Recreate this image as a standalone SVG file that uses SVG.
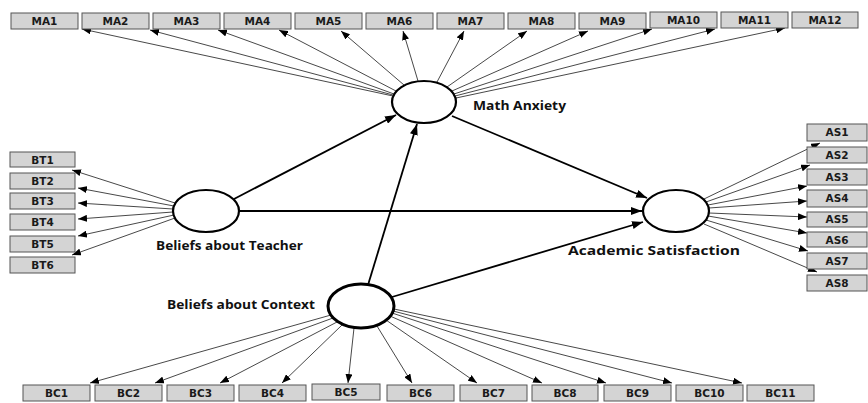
<svg xmlns="http://www.w3.org/2000/svg" width="868" height="403" viewBox="0 0 868 403">
<style>
.box{fill:#d4d4d4;stroke:#555;stroke-width:1}
.bt{font-family:"DejaVu Sans","Open Sans",sans-serif;font-weight:bold;font-size:10.5px;fill:#1a1a1a;text-anchor:middle}
.lbl{font-family:"Open Sans","DejaVu Sans",sans-serif;font-weight:bold;font-size:13px;fill:#111}
.lv{fill:#fff;stroke:#000;stroke-width:2.2}
.thin{stroke:#333;stroke-width:0.9;fill:none;marker-end:url(#ah)}
.thick{stroke:#000;stroke-width:1.8;fill:none;marker-end:url(#ahb)}
</style>
<defs>
<marker id="ah" markerUnits="userSpaceOnUse" markerWidth="9" markerHeight="7" refX="9" refY="3.5" orient="auto">
<path d="M0,0 L9,3.5 L0,7 z" fill="#000"/>
</marker>
<marker id="ahb" markerUnits="userSpaceOnUse" markerWidth="11" markerHeight="8" refX="11" refY="4" orient="auto">
<path d="M0,0 L11,4 L0,8 z" fill="#000"/>
</marker>
</defs>
<g id="connectors">
<line class="thin" x1="393" y1="96" x2="82" y2="29"/>
<line class="thin" x1="393" y1="95" x2="150" y2="30"/>
<line class="thin" x1="394" y1="94" x2="218" y2="30"/>
<line class="thin" x1="396" y1="91" x2="279" y2="30"/>
<line class="thin" x1="404" y1="85" x2="341" y2="31"/>
<line class="thin" x1="418" y1="81" x2="403" y2="31"/>
<line class="thin" x1="437" y1="82" x2="464" y2="31"/>
<line class="thin" x1="447" y1="87" x2="527" y2="31"/>
<line class="thin" x1="452" y1="91" x2="588" y2="31"/>
<line class="thin" x1="454" y1="94" x2="652" y2="29"/>
<line class="thin" x1="455" y1="96" x2="715" y2="29"/>
<line class="thin" x1="456" y1="98" x2="785" y2="28"/>
<line class="thin" x1="175" y1="203" x2="72" y2="170"/>
<line class="thin" x1="174" y1="206" x2="78" y2="188"/>
<line class="thin" x1="173" y1="209" x2="78" y2="203"/>
<line class="thin" x1="173" y1="212" x2="78" y2="219"/>
<line class="thin" x1="174" y1="215" x2="78" y2="236"/>
<line class="thin" x1="175" y1="218" x2="72" y2="255"/>
<line class="thin" x1="704" y1="199" x2="820" y2="143"/>
<line class="thin" x1="706" y1="202" x2="810" y2="165"/>
<line class="thin" x1="708" y1="205" x2="807" y2="186"/>
<line class="thin" x1="709" y1="208" x2="807" y2="201"/>
<line class="thin" x1="709" y1="213" x2="807" y2="217"/>
<line class="thin" x1="708" y1="216" x2="807" y2="233"/>
<line class="thin" x1="706" y1="220" x2="808" y2="251"/>
<line class="thin" x1="704" y1="224" x2="817" y2="272"/>
<line class="thin" x1="331" y1="315" x2="90" y2="383"/>
<line class="thin" x1="333" y1="318" x2="155" y2="383"/>
<line class="thin" x1="337" y1="322" x2="220" y2="383"/>
<line class="thin" x1="342" y1="325" x2="282" y2="383"/>
<line class="thin" x1="354" y1="328" x2="348" y2="383"/>
<line class="thin" x1="377" y1="326" x2="412" y2="383"/>
<line class="thin" x1="386" y1="320" x2="477" y2="383"/>
<line class="thin" x1="390" y1="316" x2="542" y2="383"/>
<line class="thin" x1="392" y1="313" x2="606" y2="383"/>
<line class="thin" x1="393" y1="311" x2="672" y2="383"/>
<line class="thin" x1="394" y1="309" x2="742" y2="383"/>
<line class="thick" x1="234" y1="199" x2="396" y2="115"/>
<line class="thick" x1="368" y1="285" x2="417" y2="124"/>
<line class="thick" x1="452" y1="116" x2="647" y2="198"/>
<line class="thick" x1="239" y1="211" x2="642" y2="211"/>
<line class="thick" x1="392" y1="297" x2="643" y2="222"/>
</g>
<g id="MathAnxiety"><ellipse class="lv" cx="424" cy="102" rx="32" ry="21"/><text class="lbl" x="473" y="110" textLength="93" lengthAdjust="spacingAndGlyphs">Math Anxiety</text></g>
<g id="BeliefsTeacher"><ellipse class="lv" cx="206" cy="211" rx="33" ry="21"/><text class="lbl" x="156" y="250" textLength="147" lengthAdjust="spacingAndGlyphs">Beliefs about Teacher</text></g>
<g id="AcademicSatisfaction"><ellipse class="lv" cx="676" cy="211" rx="33" ry="21"/><text class="lbl" x="568" y="255" textLength="172" lengthAdjust="spacingAndGlyphs">Academic Satisfaction</text></g>
<g id="BeliefsContext"><ellipse class="lv" cx="361" cy="306" rx="33" ry="22" style="stroke-width:3"/><text class="lbl" x="167" y="309" textLength="148" lengthAdjust="spacingAndGlyphs">Beliefs about Context</text></g>
<g id="MA1"><rect class="box" x="11" y="13" width="67" height="16"/><text class="bt" x="44.5" y="25">MA1</text></g>
<g id="MA2"><rect class="box" x="82" y="13" width="67" height="16"/><text class="bt" x="115.5" y="25">MA2</text></g>
<g id="MA3"><rect class="box" x="153" y="13" width="67" height="16"/><text class="bt" x="186.5" y="25">MA3</text></g>
<g id="MA4"><rect class="box" x="224" y="13" width="67" height="16"/><text class="bt" x="257.5" y="25">MA4</text></g>
<g id="MA5"><rect class="box" x="295" y="13" width="67" height="16"/><text class="bt" x="328.5" y="25">MA5</text></g>
<g id="MA6"><rect class="box" x="366" y="13" width="67" height="16"/><text class="bt" x="399.5" y="25">MA6</text></g>
<g id="MA7"><rect class="box" x="437" y="13" width="67" height="16"/><text class="bt" x="470.5" y="25">MA7</text></g>
<g id="MA8"><rect class="box" x="508" y="13" width="67" height="16"/><text class="bt" x="541.5" y="25">MA8</text></g>
<g id="MA9"><rect class="box" x="579" y="13" width="67" height="16"/><text class="bt" x="612.5" y="25">MA9</text></g>
<g id="MA10"><rect class="box" x="650" y="12" width="67" height="16"/><text class="bt" x="683.5" y="24">MA10</text></g>
<g id="MA11"><rect class="box" x="721" y="12" width="67" height="16"/><text class="bt" x="754.5" y="24">MA11</text></g>
<g id="MA12"><rect class="box" x="792" y="12" width="66" height="16"/><text class="bt" x="825" y="24">MA12</text></g>
<g id="BT1"><rect class="box" x="10" y="152" width="65" height="15"/><text class="bt" x="42.5" y="164">BT1</text></g>
<g id="BT2"><rect class="box" x="10" y="173" width="65" height="16"/><text class="bt" x="42.5" y="185">BT2</text></g>
<g id="BT3"><rect class="box" x="10" y="193" width="65" height="16"/><text class="bt" x="42.5" y="205">BT3</text></g>
<g id="BT4"><rect class="box" x="10" y="214" width="65" height="16"/><text class="bt" x="42.5" y="226">BT4</text></g>
<g id="BT5"><rect class="box" x="10" y="236" width="65" height="16"/><text class="bt" x="42.5" y="248">BT5</text></g>
<g id="BT6"><rect class="box" x="10" y="257" width="65" height="16"/><text class="bt" x="42.5" y="269">BT6</text></g>
<g id="AS1"><rect class="box" x="807" y="124" width="60" height="17"/><text class="bt" x="837" y="136">AS1</text></g>
<g id="AS2"><rect class="box" x="807" y="147" width="60" height="16"/><text class="bt" x="837" y="159">AS2</text></g>
<g id="AS3"><rect class="box" x="807" y="169" width="60" height="16"/><text class="bt" x="837" y="181">AS3</text></g>
<g id="AS4"><rect class="box" x="807" y="190" width="60" height="17"/><text class="bt" x="837" y="202">AS4</text></g>
<g id="AS5"><rect class="box" x="807" y="212" width="60" height="15"/><text class="bt" x="837" y="223">AS5</text></g>
<g id="AS6"><rect class="box" x="807" y="232" width="60" height="15"/><text class="bt" x="837" y="244">AS6</text></g>
<g id="AS7"><rect class="box" x="807" y="253" width="60" height="16"/><text class="bt" x="837" y="265">AS7</text></g>
<g id="AS8"><rect class="box" x="807" y="275" width="60" height="16"/><text class="bt" x="837" y="287">AS8</text></g>
<g id="BC1"><rect class="box" x="23" y="385" width="67" height="16"/><text class="bt" x="56.5" y="397">BC1</text></g>
<g id="BC2"><rect class="box" x="95" y="385" width="67" height="16"/><text class="bt" x="128.5" y="397">BC2</text></g>
<g id="BC3"><rect class="box" x="167" y="385" width="67" height="16"/><text class="bt" x="200.5" y="397">BC3</text></g>
<g id="BC4"><rect class="box" x="239" y="385" width="67" height="16"/><text class="bt" x="272.5" y="397">BC4</text></g>
<g id="BC5"><rect class="box" x="312" y="384" width="68" height="16"/><text class="bt" x="346" y="396">BC5</text></g>
<g id="BC6"><rect class="box" x="387" y="385" width="67" height="16"/><text class="bt" x="420.5" y="397">BC6</text></g>
<g id="BC7"><rect class="box" x="460" y="385" width="67" height="16"/><text class="bt" x="493.5" y="397">BC7</text></g>
<g id="BC8"><rect class="box" x="532" y="385" width="66" height="16"/><text class="bt" x="565" y="397">BC8</text></g>
<g id="BC9"><rect class="box" x="604" y="385" width="67" height="16"/><text class="bt" x="637.5" y="397">BC9</text></g>
<g id="BC10"><rect class="box" x="676" y="385" width="67" height="16"/><text class="bt" x="709.5" y="397">BC10</text></g>
<g id="BC11"><rect class="box" x="747" y="385" width="67" height="16"/><text class="bt" x="780.5" y="397">BC11</text></g>
</svg>
